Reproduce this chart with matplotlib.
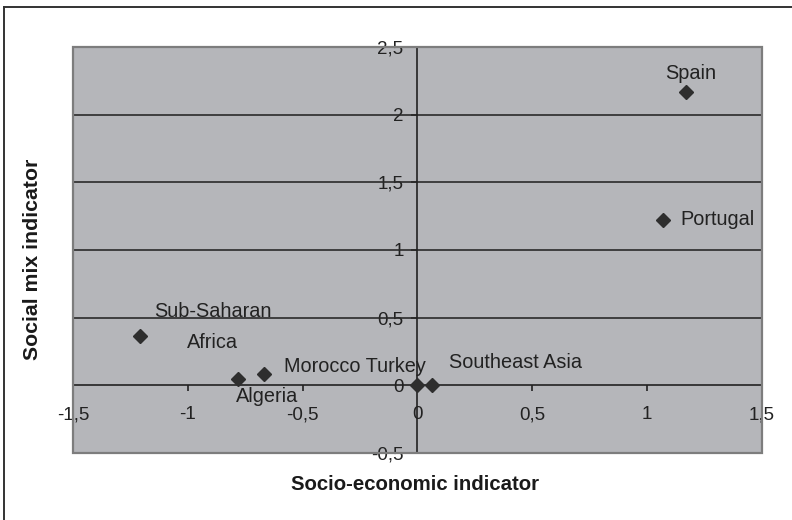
import matplotlib
matplotlib.use("Agg")
import matplotlib.pyplot as plt
from matplotlib.patches import Rectangle
from matplotlib.lines import Line2D

plt.rcParams['font.family'] = ['Liberation Sans', 'DejaVu Sans']

# data
countries = ["Spain", "Portugal", "Sub-Saharan Africa", "Algeria", "Morocco", "Turkey", "Southeast Asia"]
socio_eco = [1.17, 1.07, -1.21, -0.78, -0.67, 0.0, 0.065]
social_mix = [2.17, 1.225, 0.365, 0.05, 0.087, 0.0, 0.0]
point_labels = ["Spain", "Portugal", "Sub-Saharan\nAfrica", "Algeria", "Morocco Turkey", "", "Southeast Asia"]
x_ticks = [-1.5, -1, -0.5, 0, 0.5, 1, 1.5]
y_ticks = [-0.5, 0, 0.5, 1, 1.5, 2, 2.5]

# label placement (offset in points, alignment)
label_pos = [((3.5, 13), 'center'), ((12, 0), 'left'), ((52.6, 6.5), 'center'),
             ((20.6, -13), 'center'), ((15, 5), 'left'), ((0, 0), 'left'), ((12, 16.3), 'left')]

def fmt(v):
    s = ('%g' % v).replace('.', ',')
    return s

fig = plt.figure(figsize=(7.92, 5.2), dpi=100)
W, H = 792.0, 520.0
ax = fig.add_axes([73 / W, (H - 453) / H, 689 / W, 406 / H])
ax.set_facecolor('#b5b6ba')

ax.set_xlim(-1.5, 1.5)
ax.set_ylim(-0.5, 2.5)

# horizontal gridlines
for y in y_ticks:
    if y in (-0.5, 0):
        continue
    ax.axhline(y, color='#2a2a2a', lw=1.2, zorder=2)

for s in ['top', 'right']:
    ax.spines[s].set_visible(False)
ax.spines['left'].set_position(('data', 0))
ax.spines['bottom'].set_position(('data', 0))
for s in ['left', 'bottom']:
    ax.spines[s].set_color('#222222')
    ax.spines[s].set_linewidth(1.2)
    ax.spines[s].set_zorder(2.5)
ax.xaxis.set_zorder(1)
ax.yaxis.set_zorder(1)

ax.set_xticks(x_ticks)
ax.set_xticklabels([fmt(v) for v in x_ticks])
ax.set_yticks(y_ticks)
ax.set_yticklabels([fmt(v) for v in y_ticks])
ax.tick_params(axis='x', direction='out', length=4, width=1.2, color='#222222',
               labelsize=13.5, labelcolor='#222222', pad=11)
ax.tick_params(axis='y', direction='out', length=4, width=1.2, color='#222222',
               labelsize=13.5, labelcolor='#222222', pad=6)

# plot area border
ax.add_patch(Rectangle((0, 0), 1, 1, transform=ax.transAxes, fill=False,
                       edgecolor='#7d7d7d', lw=1.6, zorder=4, clip_on=False))

ax.plot(socio_eco, social_mix, linestyle='none', marker='D', markersize=7,
        color='#2e2e2e', zorder=5, clip_on=False)

for xv, yv, lab, (off, ha) in zip(socio_eco, social_mix, point_labels, label_pos):
    if lab:
        ax.annotate(lab, (xv, yv), xytext=off, textcoords='offset points',
                    ha=ha, va='center', fontsize=14.3, color='#222222',
                    linespacing=1.85, zorder=6)

fig.text(415 / W, 1 - 485 / H, "Socio-economic indicator", ha='center', va='center',
         fontsize=14.7, fontweight='bold', color='#1a1a1a')
fig.text(33 / W, 1 - 259 / H, "Social mix indicator", ha='center', va='center',
         rotation=90, fontsize=15.3, fontweight='bold', color='#1a1a1a')

# outer frame (only left and top edges fall inside the image)
fig.add_artist(Line2D([4 / W, 4 / W], [0, 1 - 7 / H], transform=fig.transFigure,
                      color='#333333', lw=1.4))
fig.add_artist(Line2D([4 / W, 1], [1 - 7 / H, 1 - 7 / H], transform=fig.transFigure,
                      color='#333333', lw=1.4))

fig.savefig("out.png", dpi=100)
